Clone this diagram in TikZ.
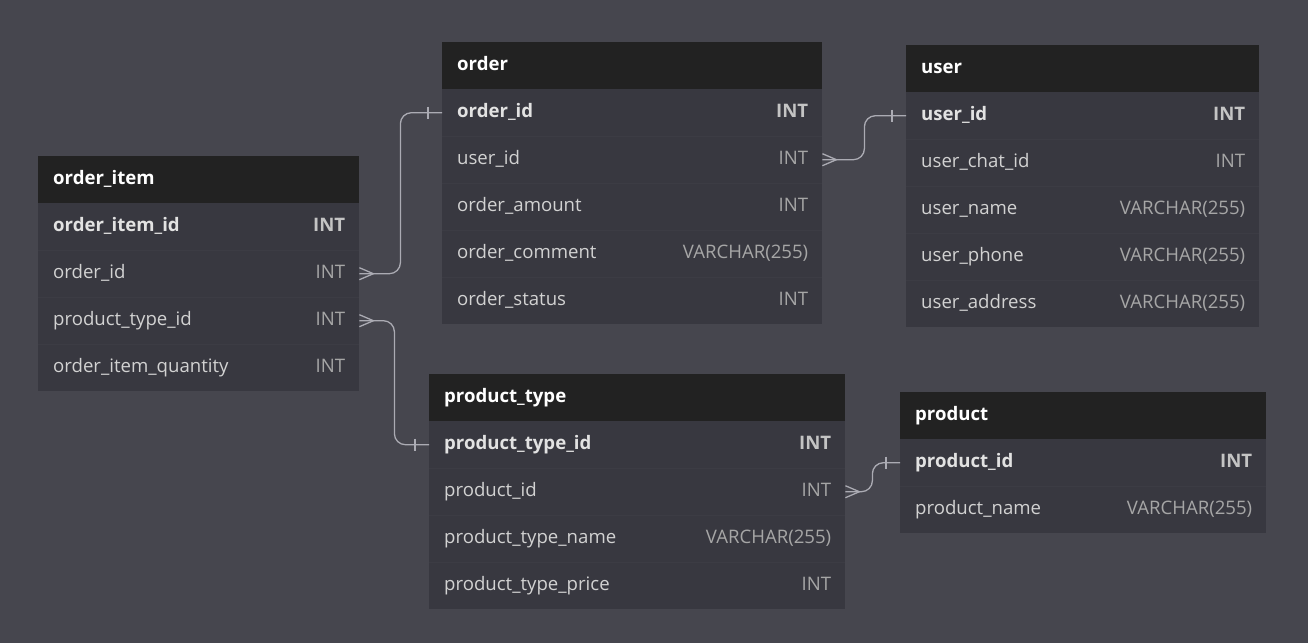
\documentclass[tikz,border=0pt]{standalone}
\usepackage{fontspec}
\setmainfont{Open Sans}
\definecolor{bgc}{HTML}{46464E}
\definecolor{headc}{HTML}{222222}
\definecolor{bodyc}{HTML}{383840}
\definecolor{sepc}{HTML}{3C3C44}
\definecolor{fieldc}{HTML}{D2D2D2}
\definecolor{keyc}{HTML}{E2E2E2}
\definecolor{typec}{HTML}{A6A6A6}
\definecolor{keytypec}{HTML}{C4C4C4}
\definecolor{linkc}{HTML}{ABABB3}
\tikzset{
  headbox/.style={fill=headc, draw=none, inner sep=0pt, minimum height=47pt, anchor=north west},
  rowbox/.style={fill=bodyc, draw=none, inner sep=0pt, minimum height=47pt, anchor=north west},
  titletext/.style={text=white, font=\fontsize{18.6pt}{22pt}\selectfont\bfseries, inner sep=0pt, anchor=base west},
  fieldtext/.style={text=fieldc, font=\fontsize{18.6pt}{22pt}\selectfont, inner sep=0pt, anchor=base west},
  typetext/.style={text=typec, font=\fontsize{18.6pt}{22pt}\selectfont, inner sep=0pt, anchor=base east},
  sepline/.style={draw=sepc, line width=1pt},
  link/.style={draw=linkc, line width=1.3pt, rounded corners=11pt},
  endmark/.style={draw=linkc, line width=1.3pt}
}
\newcommand\ertable[6]{%
  \node[headbox, minimum width=#4pt] (#1-h) at (#2,#3) {};
  \node[titletext] (#1-t) at ([shift={(15,28)}]#1-h.north west) {#5};
  \foreach \f/\t [count=\i] in {#6} {
    \node[rowbox, minimum width=#4pt] (#1-\i) at (#2,{#3+47*\i}) {};
    \ifnum\i>1 \draw[sepline] (#1-\i.north west) -- (#1-\i.north east);\fi
    \node[fieldtext] (#1-\i-f) at ([shift={(15,28.5)}]#1-\i.north west) {\ifnum\i=1\bfseries\color{keyc}\fi\f};
    \node[typetext] (#1-\i-t) at ([shift={(-14,28.5)}]#1-\i.north east) {\ifnum\i=1\bfseries\color{keytypec}\fi\t};
  }
}
\begin{document}
\begin{tikzpicture}[x=1pt,y=-1pt]
\fill[bgc] (0,0) rectangle (1308,643);
\useasboundingbox (0,0) rectangle (1308,643);

\ertable{oi}{38}{156}{321}{order\_item}{order\_item\_id/INT, order\_id/INT, product\_type\_id/INT, order\_item\_quantity/INT}
\ertable{ord}{442}{42}{380}{order}{order\_id/INT, user\_id/INT, order\_amount/INT, order\_comment/VARCHAR(255), order\_status/INT}
\ertable{usr}{906}{45}{353}{user}{user\_id/INT, user\_chat\_id/INT, user\_name/VARCHAR(255), user\_phone/VARCHAR(255), user\_address/VARCHAR(255)}
\ertable{pt}{429}{374}{416}{product\_type}{product\_type\_id/INT, product\_id/INT, product\_type\_name/VARCHAR(255), product\_type\_price/INT}
\ertable{pr}{900}{392}{366}{product}{product\_id/INT, product\_name/VARCHAR(255)}

% order_item.order_id >- order.order_id
\draw[link] (oi-2.east) -- ++(41,0) |- (ord-1.west);
\draw[endmark] (oi-2.east) ++(0,-6) -- ++(14,6) -- ++(-14,6);
\draw[endmark] (ord-1.west) ++(-14,-6) -- ++(0,12);

% order_item.product_type_id >- product_type.product_type_id
\draw[link] (oi-3.east) -- ++(35,0) |- (pt-1.west);
\draw[endmark] (oi-3.east) ++(0,-6) -- ++(14,6) -- ++(-14,6);
\draw[endmark] (pt-1.west) ++(-14,-6) -- ++(0,12);

% order.user_id >- user.user_id
\draw[link] (ord-2.east) -- ++(42,0) |- (usr-1.west);
\draw[endmark] (ord-2.east) ++(0,-6) -- ++(14,6) -- ++(-14,6);
\draw[endmark] (usr-1.west) ++(-14,-6) -- ++(0,12);

% product_type.product_id >- product.product_id
\draw[link] (pt-2.east) -- ++(27,0) |- (pr-1.west);
\draw[endmark] (pt-2.east) ++(0,-6) -- ++(14,6) -- ++(-14,6);
\draw[endmark] (pr-1.west) ++(-14,-6) -- ++(0,12);
\end{tikzpicture}
\end{document}
